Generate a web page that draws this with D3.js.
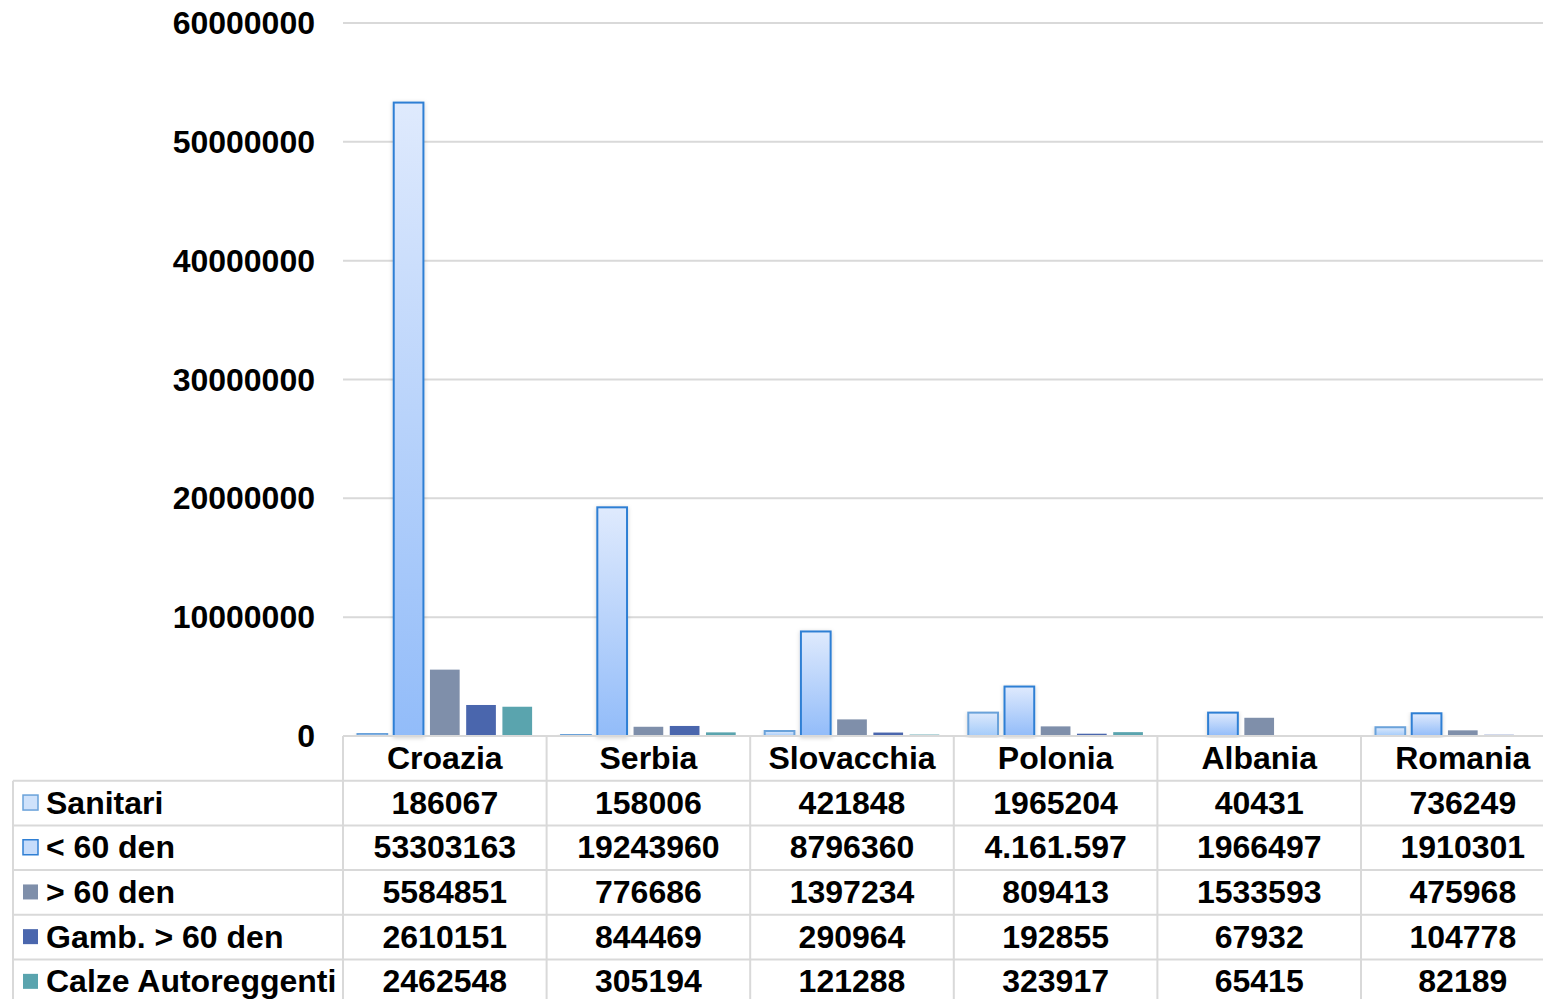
<!DOCTYPE html>
<html>
<head>
<meta charset="utf-8">
<script src="https://cdn.jsdelivr.net/npm/d3@7"></script>
<style>
  body { margin: 0; background: #fff; }
  svg { display: block; font-family: "Liberation Sans", Arial, sans-serif; }
</style>
</head>
<body>
<div id="chart"></div>
<script>
// Categories, series and values
var countries = ["Croazia", "Serbia", "Slovacchia", "Polonia", "Albania", "Romania"];
var seriesNames = ["Sanitari", "< 60 den", "> 60 den", "Gamb. > 60 den", "Calze Autoreggenti"];

var sanitari = [186067, 158006, 421848, 1965204, 40431, 736249];
var sotto60 = [53303163, 19243960, 8796360, 4161597, 1966497, 1910301];
var sopra60 = [5584851, 776686, 1397234, 809413, 1533593, 475968];
var gambaletti = [2610151, 844469, 290964, 192855, 67932, 104778];
var autoreggenti = [2462548, 305194, 121288, 323917, 65415, 82189];

var yTicks = [0, 10000000, 20000000, 30000000, 40000000, 50000000, 60000000];

// one value written differently in the table
var labelOverrides = { "1-3": "4.161.597" };

var seriesValues = [sanitari, sotto60, sopra60, gambaletti, autoreggenti];

// Sizes
var svgWidth = 1543;
var svgHeight = 999;
var plotLeft = 343;
var plotTop = 23;
var plotBottom = 736;
var catWidth = 203.6;
var rowHeight = 44.7;
var tableLeft = 13;
var fontSize = "32px";

var svg = d3.select("#chart")
    .append("svg")
    .attr("width", svgWidth)
    .attr("height", svgHeight);

var defs = svg.append("defs");

function addGradient(id, top, bottom) {
    var g = defs.append("linearGradient")
        .attr("id", id)
        .attr("x1", 0).attr("y1", 0).attr("x2", 0).attr("y2", 1);
    g.append("stop").attr("offset", "0%").attr("stop-color", top);
    g.append("stop").attr("offset", "100%").attr("stop-color", bottom);
}
addGradient("gradSan", "#dde9fc", "#a3cbfa");
addGradient("gradLow", "#dfeafd", "#92bcf9");

var shadow = defs.append("filter").attr("id", "shadow")
    .attr("x", "-30%").attr("y", "-5%").attr("width", "160%").attr("height", "110%");
shadow.append("feDropShadow")
    .attr("dx", 0).attr("dy", 1).attr("stdDeviation", 2)
    .attr("flood-color", "#000").attr("flood-opacity", 0.18);

var fills = ["url(#gradSan)", "url(#gradLow)", "#7f8faa", "#4a66ad", "#5aa4ae"];
var strokes = ["#6aa2da", "#2f7fd4", null, null, null];
var keyFills = ["#cfe2fb", "#c6dcfb", "#7f8faa", "#4a66ad", "#5aa4ae"];

// Scales
var x0 = d3.scaleBand()
    .domain(countries)
    .range([plotLeft, plotLeft + catWidth * countries.length])
    .paddingInner(0)
    .paddingOuter(0);

var x1 = d3.scaleBand()
    .domain(d3.range(seriesNames.length))
    .range([0, x0.bandwidth()])
    .paddingInner(0.18)
    .paddingOuter(0.4);

var y = d3.scaleLinear()
    .domain([0, 60000000])
    .range([plotBottom, plotTop]);

// Gridlines
svg.append("g")
    .selectAll("line")
    .data(yTicks.filter(d => d > 0))
    .enter()
    .append("line")
    .attr("x1", plotLeft)
    .attr("x2", svgWidth)
    .attr("y1", d => y(d))
    .attr("y2", d => y(d))
    .attr("stroke", "#d9d9d9")
    .attr("stroke-width", 2);

// Y axis labels
var yAxis = d3.axisLeft(y).tickValues(yTicks).tickSize(0).tickPadding(0).tickFormat(d3.format("d"));
var yAxisG = svg.append("g")
    .attr("transform", "translate(315,0)")
    .call(yAxis);
yAxisG.select(".domain").remove();
yAxisG.selectAll("text")
    .attr("font-family", "Liberation Sans, Arial, sans-serif")
    .attr("font-size", fontSize)
    .attr("font-weight", "bold")
    .attr("fill", "#000")
    .attr("dy", "0.33em");

// Bars
var barData = [];
seriesValues.forEach(function(vals, s) {
    vals.forEach(function(v, c) {
        barData.push({ s: s, c: countries[c], v: v });
    });
});

svg.append("g")
    .selectAll("rect")
    .data(barData)
    .enter()
    .append("rect")
    .attr("x", d => x0(d.c) + x1(d.s))
    .attr("y", d => y(d.v))
    .attr("width", x1.bandwidth())
    .attr("height", d => plotBottom - y(d.v))
    .attr("fill", d => fills[d.s])
    .attr("stroke", d => strokes[d.s] || "none")
    .attr("stroke-width", 2)
    .attr("filter", d => d.s < 2 ? "url(#shadow)" : null);

// Data table
var table = svg.append("g");
var lineColor = "#d9d9d9";
var tableRight = plotLeft + catWidth * countries.length;
var rowsTop = plotBottom + rowHeight;

// horizontal lines
table.append("line")
    .attr("x1", plotLeft).attr("x2", tableRight)
    .attr("y1", plotBottom).attr("y2", plotBottom)
    .attr("stroke", lineColor).attr("stroke-width", 2);
d3.range(seriesNames.length + 1).forEach(function(i) {
    table.append("line")
        .attr("x1", tableLeft).attr("x2", tableRight)
        .attr("y1", rowsTop + i * rowHeight).attr("y2", rowsTop + i * rowHeight)
        .attr("stroke", lineColor).attr("stroke-width", 2);
});

// vertical lines
table.append("line")
    .attr("x1", tableLeft).attr("x2", tableLeft)
    .attr("y1", rowsTop).attr("y2", svgHeight)
    .attr("stroke", lineColor).attr("stroke-width", 2);
d3.range(countries.length + 1).forEach(function(i) {
    var xx = plotLeft + i * catWidth;
    table.append("line")
        .attr("x1", xx).attr("x2", xx)
        .attr("y1", plotBottom).attr("y2", svgHeight)
        .attr("stroke", lineColor).attr("stroke-width", 2);
});

// Category headers
table.selectAll("text.cat")
    .data(countries)
    .enter()
    .append("text")
    .attr("class", "cat")
    .attr("x", d => x0(d) + x0.bandwidth() / 2)
    .attr("y", plotBottom + rowHeight / 2)
    .attr("dy", "0.33em")
    .attr("text-anchor", "middle")
    .attr("font-size", fontSize)
    .attr("font-weight", "bold")
    .text(d => d);

// Legend keys and series names
seriesNames.forEach(function(name, s) {
    var cy = rowsTop + s * rowHeight + rowHeight / 2;
    table.append("rect")
        .attr("x", 23).attr("y", cy - 8)
        .attr("width", 15).attr("height", 15)
        .attr("fill", keyFills[s])
        .attr("stroke", strokes[s] || "none")
        .attr("stroke-width", 1.5);
    table.append("text")
        .attr("x", 46)
        .attr("y", cy)
        .attr("dy", "0.33em")
        .attr("font-size", fontSize)
        .attr("font-weight", "bold")
        .text(name);

    table.selectAll("text.v" + s)
        .data(seriesValues[s])
        .enter()
        .append("text")
        .attr("class", "v" + s)
        .attr("x", (d, c) => x0(countries[c]) + x0.bandwidth() / 2)
        .attr("y", cy)
        .attr("dy", "0.33em")
        .attr("text-anchor", "middle")
        .attr("font-size", fontSize)
        .attr("font-weight", "bold")
        .text((d, c) => labelOverrides[s + "-" + c] || String(d));
});
</script>
</body>
</html>
